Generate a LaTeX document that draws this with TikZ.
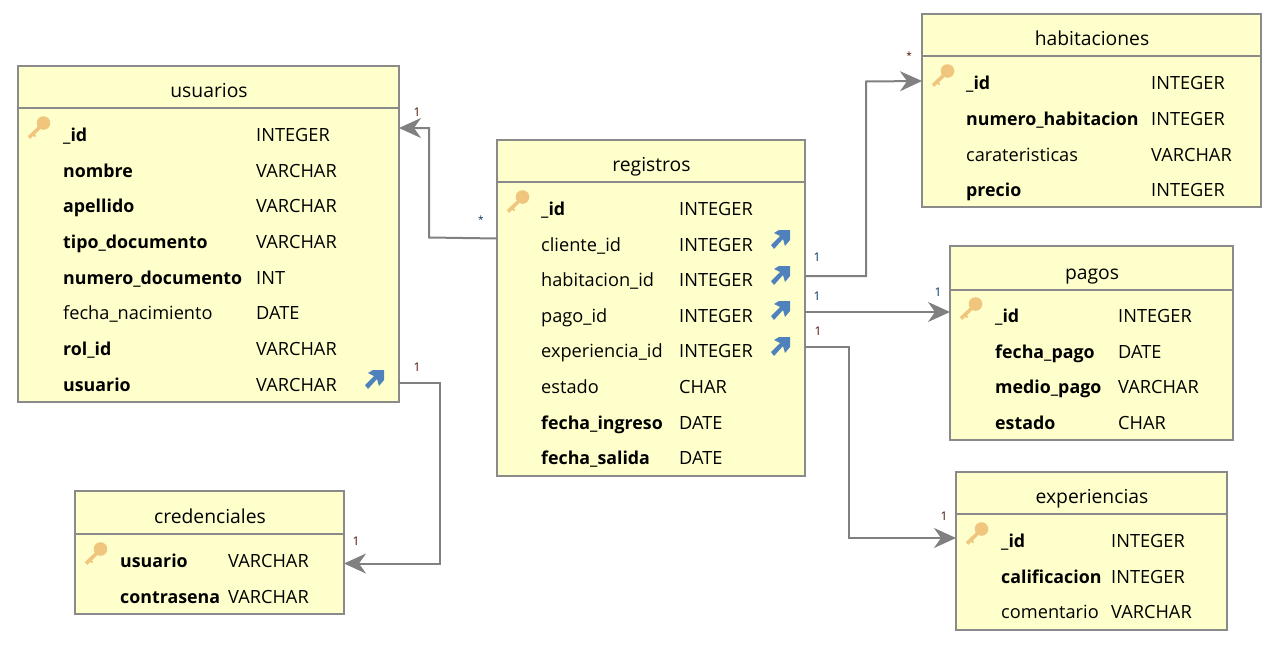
\documentclass[tikz,border=0pt]{standalone}
\usepackage{fontspec}
\setmainfont{Open Sans}
\usetikzlibrary{arrows.meta,calc}
\definecolor{tblfill}{HTML}{FFFFCC}
\definecolor{tblline}{HTML}{8A8A8A}
\definecolor{connline}{HTML}{808080}
\definecolor{keycol}{HTML}{F0C67E}
\definecolor{fkcol}{HTML}{4F81BD}
\definecolor{lblred}{HTML}{4A1000}
\definecolor{lblblue}{HTML}{003060}
\tikzset{
  tablebox/.style={draw=tblline,fill=tblfill,line width=2pt,rectangle,inner sep=0pt,outer sep=0pt},
  headline/.style={draw=tblline,line width=2pt},
  titletext/.style={font=\fontsize{19.3}{22}\selectfont,anchor=base,inner sep=0pt,text=black},
  nametext/.style={font=\fontsize{18.2}{20}\selectfont,anchor=base west,inner sep=0pt,text=black},
  boldtext/.style={font=\fontsize{17.8}{20}\selectfont\bfseries,anchor=base west,inner sep=0pt,text=black},
  connector/.style={draw=connline,line width=2pt,-{Stealth[length=22pt,width=20pt,inset=7pt]}},
  mult/.style={font=\fontsize{12}{13}\selectfont,inner sep=0pt},
  multstar/.style={font=\fontsize{10}{11}\selectfont,inner sep=0pt},
  pics/keyicon/.style={code={
    \draw[keycol,line width=3.6pt] (2,-2) -- (-10,9.5);
    \draw[keycol,line width=2pt] (-6,6) -- (-3.5,8.5);
    \fill[keycol] (4.5,-5) circle (6.8);
  }},
  pics/fkicon/.style={code={
    \fill[fkcol] (-7,-6) -- (-2,-9) -- (9,-9) -- (9,1) -- (4,7) -- (2,0) -- (-7,10) -- (-10,6) -- (-1,-3) -- cycle;
  }}
}
\newcommand{\tbl}[7]{% name, x1,y1,x2,y2,headerY,title
  \node[tablebox,minimum width=#4-#2,minimum height=#5-#3] (#1) at ({(#2+#4)/2},{(#3+#5)/2}) {};
  \coordinate (#1hl) at (#2,#6);
  \coordinate (#1hr) at (#4,#6);
  \draw[headline] (#1hl) -- (#1hr);
  \node[titletext] (#1title) at ({(#2+#4)/2+0.5},#6-10.5) {#7};
}
\newcommand{\row}[7]{% id, nameX, typeX, yCenter, style, name, type
  \node[#5] (#1n) at (#2,#4+7.4) {#6};
  \node[nametext] (#1t) at (#3,#4+7.4) {#7};
}
\begin{document}
\begin{tikzpicture}[x=1pt,y=-1pt]
\useasboundingbox (0,0) rectangle (1275,645);
% usuarios
\tbl{usuarios}{18}{66}{399}{402}{108}{usuarios}
\row{ua}{63}{256}{134}{boldtext}{\_id}{INTEGER}
\row{ub}{63}{256}{170}{boldtext}{nombre}{VARCHAR}
\row{uc}{63}{256}{205}{boldtext}{apellido}{VARCHAR}
\row{ud}{63}{256}{241}{boldtext}{tipo\_documento}{VARCHAR}
\row{ue}{63}{256}{277}{boldtext}{numero\_documento}{INT}
\row{uf}{63}{256}{312}{nametext}{fecha\_nacimiento}{DATE}
\row{ug}{63}{256}{348}{boldtext}{rol\_id}{VARCHAR}
\row{uh}{63}{256}{384}{boldtext}{usuario}{VARCHAR}
\pic at (39,128) {keyicon};
\pic at (375,379) {fkicon};
% credenciales
\tbl{credenciales}{75}{491}{344}{614}{534}{credenciales}
\row{ca}{120}{228}{560}{boldtext}{usuario}{VARCHAR}
\row{cb}{120}{228}{596}{boldtext}{contrasena}{VARCHAR}
\pic at (96,554) {keyicon};
% registros
\tbl{registros}{497}{140}{805}{476}{182}{registros}
\row{ra}{541}{679}{208}{boldtext}{\_id}{INTEGER}
\row{rb}{541}{679}{244}{nametext}{cliente\_id}{INTEGER}
\row{rc}{541}{679}{279}{nametext}{habitacion\_id}{INTEGER}
\row{rd}{541}{679}{315}{nametext}{pago\_id}{INTEGER}
\row{re}{541}{679}{350}{nametext}{experiencia\_id}{INTEGER}
\row{rf}{541}{679}{386}{nametext}{estado}{CHAR}
\row{rg}{541}{679}{422}{boldtext}{fecha\_ingreso}{DATE}
\row{rh}{541}{679}{457}{boldtext}{fecha\_salida}{DATE}
\pic at (518,202) {keyicon};
\pic at (781,239) {fkicon};
\pic at (781,275) {fkicon};
\pic at (781,310) {fkicon};
\pic at (781,346) {fkicon};
% habitaciones
\tbl{habitaciones}{922}{14}{1261}{207}{56}{habitaciones}
\row{ha}{966}{1151}{82}{boldtext}{\_id}{INTEGER}
\row{hb}{966}{1151}{118}{boldtext}{numero\_habitacion}{INTEGER}
\row{hc}{966}{1151}{154}{nametext}{carateristicas}{VARCHAR}
\row{hd}{966}{1151}{189}{boldtext}{precio}{INTEGER}
\pic at (943,76) {keyicon};
% pagos
\tbl{pagos}{950}{246}{1233}{440}{290}{pagos}
\row{pa}{995}{1118}{315}{boldtext}{\_id}{INTEGER}
\row{pb}{995}{1118}{351}{boldtext}{fecha\_pago}{DATE}
\row{pc}{995}{1118}{386}{boldtext}{medio\_pago}{VARCHAR}
\row{pd}{995}{1118}{422}{boldtext}{estado}{CHAR}
\pic at (971,309) {keyicon};
% experiencias
\tbl{experiencias}{956}{472}{1227}{630}{514}{experiencias}
\row{ea}{1001}{1111}{540}{boldtext}{\_id}{INTEGER}
\row{eb}{1001}{1111}{576}{boldtext}{calificacion}{INTEGER}
\row{ec}{1001}{1111}{611}{nametext}{comentario}{VARCHAR}
\pic at (977,534) {keyicon};
% connectors
\draw[connector] (registros.west |- 0,238.5) -- (429,237.5) -- (429,128) -- (usuarios.east |- 0,128);
\draw[connector] (usuarios.east |- 0,383) -- (440,383) -- (440,563.5) -- (credenciales.east |- 0,563.5);
\draw[connector] (registros.east |- 0,276) -- (866,276) -- (866,81.5) -- (habitaciones.west |- 0,81);
\draw[connector] (registros.east |- 0,312) -- (pagos.west |- 0,312);
\draw[connector] (registros.east |- 0,347) -- (849,347) -- (849,538) -- (experiencias.west |- 0,538);
% multiplicities
\node[mult,text=lblred] (m1) at (417,112) {1};
\node[multstar,text=lblblue] (m2) at (481,220) {*};
\node[mult,text=lblred] (m3) at (417,367) {1};
\node[mult,text=lblred] (m4) at (356,541) {1};
\node[mult,text=lblblue] (m5) at (817,257) {1};
\node[mult,text=lblblue] (m6) at (817,296) {1};
\node[mult,text=lblred] (m7) at (818,331) {1};
\node[mult,text=lblblue] (m8) at (938,292) {1};
\node[mult,text=lblred] (m9) at (944,516) {1};
\node[multstar,text=lblred] (m10) at (909,56) {*};
\end{tikzpicture}
\end{document}
